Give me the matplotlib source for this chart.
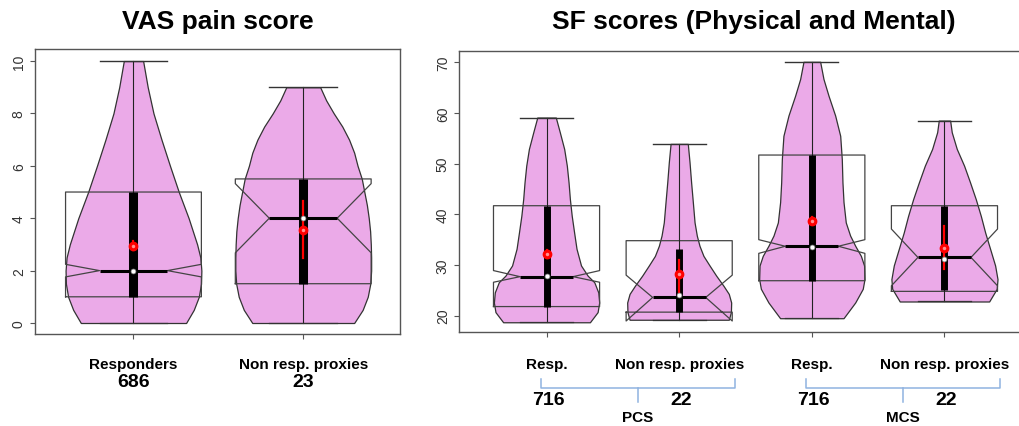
import matplotlib
matplotlib.use("Agg")
import matplotlib.pyplot as plt

# ---- data ----
vas_labels = ["Responders", "Non resp. proxies"]
vas_n = [686, 23]
vas_q1 = [1.0, 1.5]
vas_med = [2.0, 4.0]
vas_q3 = [5.0, 5.5]
vas_notch_lo = [1.76, 2.68]
vas_notch_hi = [2.24, 5.32]
vas_whisk_lo = [0.0, 0.0]
vas_whisk_hi = [10.0, 9.0]
vas_bar_lo = [1.0, 1.5]
vas_bar_hi = [5.0, 5.5]
vas_vmed = [2.0, 4.0]
vas_mean = [2.95, 3.55]
vas_ci_lo = [2.78, 2.48]
vas_ci_hi = [3.12, 4.67]
vas_violin_y = [
    [0, 0.5, 1, 1.5, 2, 2.5, 3, 3.5, 4, 4.5, 5, 6, 7, 8, 9, 10],
    [0, 0.5, 1, 1.5, 2, 2.5, 3, 3.5, 4, 4.5, 5, 5.5, 6, 6.5, 7, 7.5, 8, 8.5, 9],
]
vas_violin_w = [
    [0.31, 0.355, 0.385, 0.398, 0.40, 0.394, 0.375, 0.35, 0.325, 0.296, 0.267,
     0.215, 0.165, 0.118, 0.084, 0.057],
    [0.30, 0.35, 0.38, 0.395, 0.40, 0.40, 0.398, 0.394, 0.386, 0.375, 0.36,
     0.345, 0.32, 0.30, 0.27, 0.23, 0.18, 0.135, 0.10],
]

sf_labels = ["Resp.", "Non resp. proxies", "Resp.", "Non resp. proxies"]
sf_n = [716, 22, 716, 22]
sf_groups = ["PCS", "MCS"]
sf_q1 = [21.8, 20.7, 26.9, 24.8]
sf_med = [27.7, 23.6, 33.7, 31.5]
sf_q3 = [41.7, 34.8, 51.7, 41.7]
sf_notch_lo = [26.6, 18.95, 32.3, 25.9]
sf_notch_hi = [28.9, 28.0, 35.0, 37.1]
sf_whisk_lo = [18.7, 19.2, 19.5, 22.8]
sf_whisk_hi = [59.1, 53.9, 70.1, 58.5]
sf_bar_lo = [21.8, 20.7, 26.9, 25.1]
sf_bar_hi = [41.7, 33.2, 51.7, 41.6]
sf_vmed = [27.9, 24.0, 33.5, 31.2]
sf_mean = [32.1, 28.2, 38.75, 33.4]
sf_ci_lo = [31.3, 23.9, 38.0, 29.3]
sf_ci_hi = [32.9, 30.9, 39.5, 37.6]
sf_violin_y = [
    [18.7, 20.7, 22.6, 24.6, 26.6, 27.9, 29.9, 33.2, 36.4, 39.7, 43.0, 46.3,
     49.6, 52.9, 56.2, 59.1],
    [19.2, 20.7, 22.6, 24.3, 25.9, 27.9, 29.9, 31.8, 33.8, 35.8, 38.4, 42.4,
     46.3, 50.3, 53.9],
    [19.5, 22.6, 25.3, 27.2, 29.9, 31.8, 33.8, 35.8, 38.4, 42.4, 46.3, 50.9,
     55.5, 59.5, 63.4, 66.7, 70.1],
    [22.8, 25.3, 27.2, 29.9, 33.2, 36.4, 39.7, 43.0, 46.3, 49.6, 52.9, 56.2, 58.5],
]
sf_violin_w = [
    [0.327, 0.385, 0.397, 0.39, 0.36, 0.31, 0.26, 0.226, 0.208, 0.19, 0.176,
     0.166, 0.153, 0.133, 0.10, 0.07],
    [0.374, 0.39, 0.392, 0.374, 0.334, 0.279, 0.229, 0.183, 0.153, 0.133,
     0.116, 0.103, 0.09, 0.078, 0.065],
    [0.239, 0.327, 0.384, 0.397, 0.394, 0.37, 0.327, 0.289, 0.256, 0.239,
     0.231, 0.226, 0.214, 0.176, 0.126, 0.088, 0.063],
    [0.337, 0.394, 0.40, 0.382, 0.344, 0.307, 0.274, 0.236, 0.193, 0.148,
     0.093, 0.055, 0.043],
]

PINK = "#ebaae8"
FRAME = "#555555"
BRACKET = "#8fb3e0"
W, H = 1019, 427

plt.rcParams["font.family"] = ["Liberation Sans", "DejaVu Sans"]


def draw_group(ax, pos, vy, vw, q1, med, q3, nlo, nhi, wlo, whi,
               blo, bhi, vmed, mean, cilo, cihi, bar_lw):
    bw = 0.4
    left = [pos - w for w in vw]
    right = [pos + w for w in vw]
    ax.fill_betweenx(vy, left, right, facecolor=PINK, edgecolor="#333333",
                     linewidth=0.9, zorder=1)
    # notched box outline
    bx = [pos - bw, pos - bw, pos - bw / 2, pos - bw, pos - bw,
          pos + bw, pos + bw, pos + bw / 2, pos + bw, pos + bw, pos - bw]
    by = [q1, nlo, med, nhi, q3, q3, nhi, med, nlo, q1, q1]
    ax.plot(bx, by, color="#444444", lw=0.9, zorder=2)
    # whisker + staples
    ax.plot([pos, pos], [wlo, whi], color="#222222", lw=0.8, zorder=3)
    ax.plot([pos - bw / 2, pos + bw / 2], [whi, whi], color="#333333", lw=1.0, zorder=3)
    ax.plot([pos - bw / 2, pos + bw / 2], [wlo, wlo], color="#333333", lw=0.9, zorder=3)
    # thick IQR bar, median
    ax.plot([pos, pos], [blo, bhi], color="black", lw=bar_lw,
            solid_capstyle="butt", zorder=4)
    ax.plot([pos - bw / 2, pos + bw / 2], [med, med], color="black", lw=2.2,
            solid_capstyle="butt", zorder=5)
    # mean with CI
    ax.plot([pos, pos], [cilo, cihi], color="red", lw=1.6, zorder=6)
    ax.plot(pos, vmed, "o", ms=3.5, mfc="white", mec="#888888", mew=0.5, zorder=7)
    ax.plot(pos, mean, "o", ms=6, mfc="red", mec="red", zorder=8)
    ax.plot(pos, mean, "o", ms=2.5, mfc="#ff9090", mec="none", zorder=9)


def style_axes(ax):
    for s in ax.spines.values():
        s.set_color(FRAME)
        s.set_linewidth(1.0)
    ax.tick_params(direction="out", length=3.6, width=0.8, color=FRAME,
                   labelsize=10, labelcolor="#333333")
    ax.tick_params(axis="y", labelrotation=90, pad=3)
    for lab in ax.get_yticklabels():
        lab.set_va("center")
    ax.set_xticklabels([])


fig = plt.figure(figsize=(W / 100, H / 100), dpi=100)

# left panel: VAS
ax1 = fig.add_axes([35 / W, 1 - 335 / H, 365 / W, 285 / H])
for i in range(len(vas_labels)):
    draw_group(ax1, i + 1, vas_violin_y[i], vas_violin_w[i], vas_q1[i],
               vas_med[i], vas_q3[i], vas_notch_lo[i], vas_notch_hi[i],
               vas_whisk_lo[i], vas_whisk_hi[i], vas_bar_lo[i], vas_bar_hi[i],
               vas_vmed[i], vas_mean[i], vas_ci_lo[i], vas_ci_hi[i], 6.5)
ax1.set_xlim(0.42, 2.57)
ax1.set_ylim(-0.42, 10.46)
ax1.set_xticks(range(1, len(vas_labels) + 1))
ax1.set_yticks([0, 2, 4, 6, 8, 10])
style_axes(ax1)

# right panel: SF (frame runs past the image edge as in the original)
ax2 = fig.add_axes([459 / W, 1 - 333 / H, 573 / W, 281 / H])
for i in range(len(sf_labels)):
    draw_group(ax2, i + 1, sf_violin_y[i], sf_violin_w[i], sf_q1[i],
               sf_med[i], sf_q3[i], sf_notch_lo[i], sf_notch_hi[i],
               sf_whisk_lo[i], sf_whisk_hi[i], sf_bar_lo[i], sf_bar_hi[i],
               sf_vmed[i], sf_mean[i], sf_ci_lo[i], sf_ci_hi[i], 5.0)
ax2.set_xlim(0.34, 4.66)
ax2.set_ylim(16.78, 72.23)
ax2.set_xticks(range(1, len(sf_labels) + 1))
ax2.set_yticks([20, 30, 40, 50, 60, 70])
style_axes(ax2)

# titles
fig.text(218 / W, 1 - 22 / H, "VAS pain score", ha="center", va="center",
         fontsize=19, fontweight="bold")
fig.text(754 / W, 1 - 22 / H, "SF scores (Physical and Mental)", ha="center",
         va="center", fontsize=19, fontweight="bold")


def data_x(ax, x):
    # data x -> figure fraction
    return fig.transFigure.inverted().transform(ax.transData.transform((x, 0)))[0]


for i, (lab, n) in enumerate(zip(vas_labels, vas_n)):
    x = data_x(ax1, i + 1)
    fig.text(x, 1 - 365 / H, lab, ha="center", va="center", fontsize=11,
             fontweight="bold")
    fig.text(x, 1 - 383 / H, str(n), ha="center", va="center", fontsize=14,
             fontweight="bold")

for i, (lab, n) in enumerate(zip(sf_labels, sf_n)):
    x = data_x(ax2, i + 1)
    fig.text(x, 1 - 365 / H, lab, ha="center", va="center", fontsize=11,
             fontweight="bold")
    fig.text(x + 2 / W, 1 - 401 / H, str(n), ha="center", va="center",
             fontsize=14, fontweight="bold")

# brackets under each pair
for g, name in enumerate(sf_groups):
    x0 = data_x(ax2, 2 * g + 1) - 6 / W
    x1 = data_x(ax2, 2 * g + 2) + 56 / W
    xm = (x0 + x1) / 2
    ytop, ymid, ybot = 1 - 380 / H, 1 - 389 / H, 1 - 403 / H
    fig.add_artist(plt.Line2D([x0, x0, x1, x1], [ytop, ymid, ymid, ytop],
                              color=BRACKET, lw=1.1))
    fig.add_artist(plt.Line2D([xm, xm], [ymid, ybot], color=BRACKET, lw=1.1))
    fig.text(xm, 1 - 418 / H, name, ha="center", va="center", fontsize=11,
             fontweight="bold")

fig.savefig("out.png", dpi=100)
